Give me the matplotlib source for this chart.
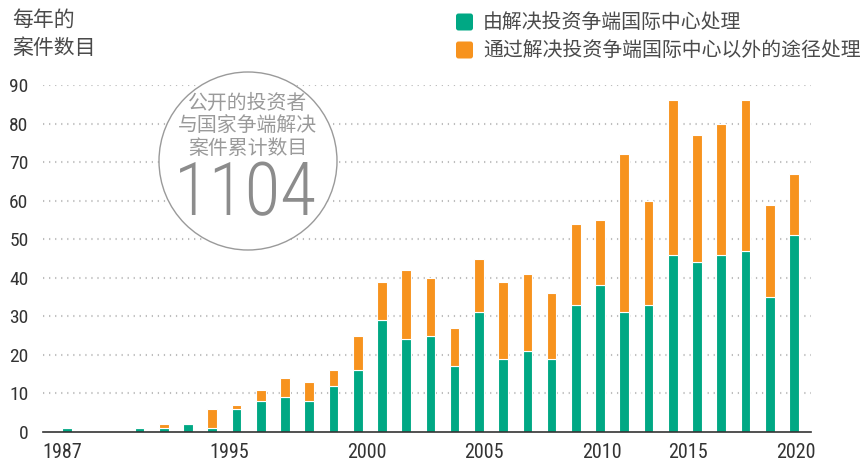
import matplotlib
matplotlib.use("Agg")
import matplotlib.pyplot as plt
from matplotlib import font_manager
from matplotlib.patches import Circle, FancyBboxPatch
import numpy as np

# bar slots as drawn in the source chart (two empty slots after 1987)
slots = ["1987", "", "", "1991", "1992", "1993", "1994", "1995", "1996", "1997",
         "1998", "1999", "2000", "2001", "2002", "2003", "2004", "2005", "2006",
         "2007", "2008", "2009", "2010", "2011", "2012", "2013", "2014", "2015",
         "2016", "2017", "2020"]
icsid = [1, 0, 0, 1, 1, 2, 1, 6, 8, 9, 8, 12, 16, 29, 24, 25, 17, 31, 19, 21,
         19, 33, 38, 31, 33, 46, 44, 46, 47, 35, 51]
non_icsid = [0, 0, 0, 0, 1, 0, 5, 1, 3, 5, 5, 4, 9, 10, 18, 15, 10, 14, 20, 20,
             17, 21, 17, 41, 27, 40, 33, 34, 39, 24, 16]

year_labels = ["1987", "1995", "2000", "2005", "2010", "2015", "2020"]
year_label_pos = [-0.19, 6.7, 12.39, 17.22, 22.08, 25.63, 30.08]

GREEN = "#00a884"
ORANGE = "#f7931e"

installed = {f.name for f in font_manager.fontManager.ttflist}
condensed = [f for f in ["Roboto Condensed", "Liberation Sans Narrow"] if f in installed]
NUM_FONT = condensed[:1] + ["Liberation Sans", "DejaVu Sans"]
CJK_FONT = ["Noto Sans CJK SC", "DejaVu Sans"]
# big number: condensed face if there is one, else shrink to the same width
big_size = 53 if condensed else 45

plt.rcParams["font.family"] = CJK_FONT

fig = plt.figure(figsize=(8.67, 4.65), dpi=100)
ax = fig.add_axes([43 / 867, 1 - 432 / 465, (811 - 43) / 867, (432 - 85) / 465])

x = np.arange(len(slots))
w = 0.4
ax.bar(x, icsid, width=w, color=GREEN, edgecolor="white", linewidth=0.8, zorder=3)
ax.bar(x, non_icsid, width=w, bottom=icsid, color=ORANGE, edgecolor="white",
       linewidth=0.8, zorder=3)

ax.set_xlim(-0.98, 30.7)
ax.set_ylim(0, 90)

ax.set_yticks(range(0, 100, 10))
ax.set_yticklabels([str(v) for v in range(0, 100, 10)], family=NUM_FONT,
                   fontsize=14, color="#333333")
ax.set_xticks(year_label_pos)
ax.set_xticklabels(year_labels, family=NUM_FONT, fontsize=14.5, color="#333333")
ax.tick_params(axis="both", length=0)
ax.tick_params(axis="y", pad=10.5)
ax.tick_params(axis="x", pad=8)

for v in range(10, 100, 10):
    ax.axhline(v, color="#bdbdbd", lw=1.5, linestyle=(0, (0.6, 2.3)), zorder=1)

for s in ["top", "right", "left"]:
    ax.spines[s].set_visible(False)
ax.spines["bottom"].set_color("#333333")
ax.spines["bottom"].set_linewidth(1.2)
ax.spines["bottom"].set_zorder(4)

# cumulative count circle
circ = Circle((2.48, (465 - 161) / 100), 0.89, transform=fig.dpi_scale_trans,
              facecolor="white", edgecolor="#9a9a9a", lw=1.0, zorder=5, clip_on=False)
ax.add_patch(circ)
for txt, yy in [("公开的投资者", 103), ("与国家争端解决", 126), ("案件累计数目", 148)]:
    fig.text(247.5 / 867, 1 - yy / 465, txt, ha="center", va="center",
             fontsize=14.3, color="#9a9a9a", zorder=6)
fig.text(245 / 867, 1 - 195 / 465, "1104", ha="center", va="center",
         family=NUM_FONT, fontsize=big_size, fontweight="light", color="#8c8c8c",
         zorder=6)

# y axis title
fig.text(12 / 867, 1 - 20 / 465, "每年的", ha="left", va="center",
         fontsize=15, color="#4a4a4a")
fig.text(12 / 867, 1 - 48 / 465, "案件数目", ha="left", va="center",
         fontsize=15, color="#4a4a4a")

# legend
for col, label, yy in [(GREEN, "由解决投资争端国际中心处理", 22),
                       (ORANGE, "通过解决投资争端国际中心以外的途径处理", 50)]:
    box = FancyBboxPatch((456 / 100, (465 - yy - 8.5) / 100), 0.17, 0.17,
                         boxstyle="round,pad=0,rounding_size=0.025",
                         transform=fig.dpi_scale_trans, facecolor=col,
                         edgecolor="none")
    fig.patches.append(box)
    fig.text(483 / 867, 1 - yy / 465, label, ha="left", va="center",
             fontsize=14.3, color="#4a4a4a")

fig.savefig("out.png", dpi=100)
